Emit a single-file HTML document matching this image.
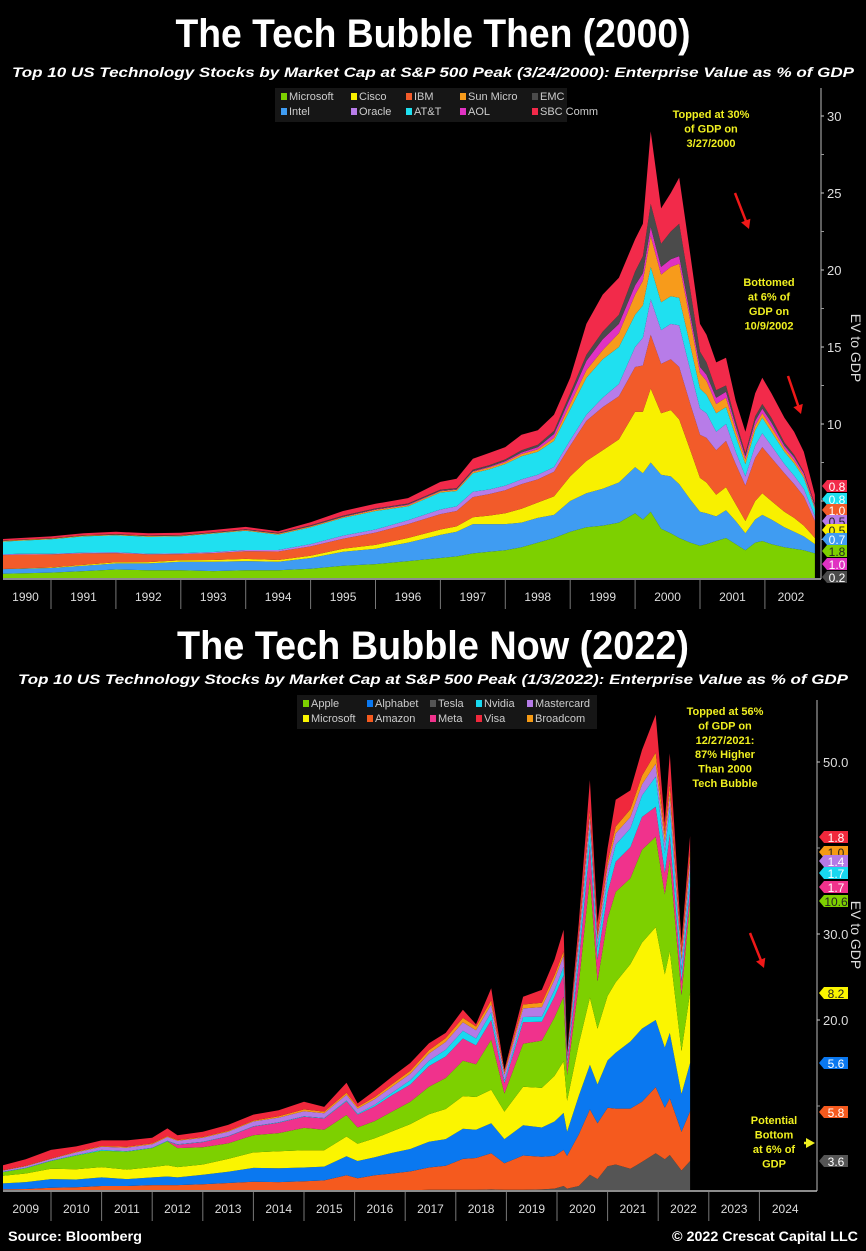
<!DOCTYPE html>
<html><head><meta charset="utf-8"><style>
html,body{margin:0;padding:0;background:#000;}
svg{display:block;font-family:"Liberation Sans",sans-serif;}
</style></head><body>
<svg id="c" width="866" height="1251" viewBox="0 0 866 1251">
<rect width="866" height="1251" fill="#000"/>
<text x="433" y="47" text-anchor="middle" fill="#fff" font-weight="bold" font-size="40" textLength="515" lengthAdjust="spacingAndGlyphs">The Tech Bubble Then (2000)</text>
<text x="433" y="77" text-anchor="middle" fill="#fff" font-weight="bold" font-style="italic" font-size="14" textLength="842" lengthAdjust="spacingAndGlyphs">Top 10 US Technology Stocks by Market Cap at S&amp;P 500 Peak (3/24/2000): Enterprise Value as % of GDP</text>
<text x="433" y="659" text-anchor="middle" fill="#fff" font-weight="bold" font-size="40" textLength="512" lengthAdjust="spacingAndGlyphs">The Tech Bubble Now (2022)</text>
<text x="433" y="684" text-anchor="middle" fill="#fff" font-weight="bold" font-style="italic" font-size="14" textLength="830" lengthAdjust="spacingAndGlyphs">Top 10 US Technology Stocks by Market Cap at S&amp;P 500 Peak (1/3/2022): Enterprise Value as % of GDP</text>
<text x="8" y="1241" fill="#fff" font-weight="bold" font-size="14" textLength="134" lengthAdjust="spacingAndGlyphs">Source: Bloomberg</text>
<text x="858" y="1241" text-anchor="end" fill="#fff" font-weight="bold" font-size="14" textLength="186" lengthAdjust="spacingAndGlyphs">© 2022 Crescat Capital LLC</text>
<g id="g1"></g>
<g id="g2"></g>
</svg>
<script>
// ===== Top chart data (EV as % of GDP) =====
const topDates=[1990.0,1990.5,1991.0,1991.5,1992.0,1992.5,1993.0,1993.5,1994.0,1994.5,1995.0,1995.5,1996.0,1996.5,1997.0,1997.25,1997.5,1997.75,1998.0,1998.25,1998.5,1998.75,1999.0,1999.25,1999.5,1999.75,2000.0,2000.12,2000.24,2000.4,2000.55,2000.68,2000.85,2001.0,2001.1,2001.25,2001.4,2001.55,2001.7,2001.85,2001.96,2002.1,2002.3,2002.45,2002.6,2002.77];
const topMicrosoft=[.25,.3,.35,.45,.55,.5,.5,.45,.5,.5,.6,.8,.9,1.1,1.3,1.4,1.6,1.7,1.8,2.0,2.3,2.6,3.0,3.3,3.4,3.6,4.2,3.8,4.3,3.2,2.9,2.6,2.3,2.1,2.2,2.4,2.6,2.2,1.8,2.3,2.4,2.2,2.0,1.9,1.8,1.6];
const topIntel=[.3,.3,.3,.35,.4,.45,.55,.6,.6,.55,.7,.9,1.0,1.2,1.5,1.6,1.9,1.8,1.7,1.6,1.6,1.5,2.0,2.2,2.4,2.6,3.0,3.0,3.2,3.5,3.7,3.5,2.8,2.2,2.0,1.6,1.8,1.5,1.1,1.5,1.7,1.6,1.3,1.1,.9,.6];
const topCisco=[0,.02,.03,.05,.07,.08,.1,.12,.14,.12,.15,.2,.25,.3,.35,.35,.45,.55,.7,.9,1.0,1.2,1.6,2.1,2.5,2.8,3.6,4.0,4.8,4.0,4.3,4.2,3.2,2.2,2.0,1.4,1.5,1.1,.8,1.2,1.4,1.2,1.0,.9,.7,.4];
const topIBM=[.9,.9,.85,.75,.6,.5,.4,.45,.5,.55,.6,.65,.8,.9,1.0,1.0,1.3,1.4,1.5,1.6,1.5,1.6,2.0,2.6,2.8,2.8,2.9,3.0,3.5,3.2,3.3,3.4,3.0,2.8,2.9,2.9,3.0,2.6,2.3,2.8,3.0,2.8,2.5,2.2,1.9,1.1];
const topOracle=[.05,.05,.04,.05,.05,.05,.06,.07,.08,.1,.15,.2,.2,.25,.3,.3,.35,.3,.3,.3,.3,.3,.35,.4,.6,.8,1.3,1.8,2.3,2.2,2.3,2.7,2.2,1.7,1.6,1.2,1.1,.8,.6,.8,.9,.8,.6,.55,.5,.3];
const topATT=[.8,.85,.95,1.05,1.1,1.1,1.1,1.2,1.25,1.0,1.1,1.15,1.2,.9,1.1,1.0,1.2,1.3,1.4,1.5,1.5,1.7,2.0,2.4,2.5,2.4,2.1,2.1,2.1,1.8,1.8,1.8,1.6,1.3,1.2,1.2,1.1,1.0,.8,1.0,1.0,.9,.8,.8,.7,.5];
const topSun=[.05,.05,.04,.05,.05,.05,.04,.04,.05,.05,.05,.06,.08,.08,.08,.08,.1,.12,.12,.15,.15,.2,.35,.5,.6,.9,1.3,1.6,2.0,1.8,1.9,2.2,1.6,1.0,.9,.6,.6,.4,.3,.3,.3,.3,.2,.2,.15,.1];
const topAOL=[0,0,0,0,0,0,.01,.01,.01,.02,.02,.03,.03,.04,.03,.03,.04,.05,.07,.1,.15,.25,.4,.6,.7,.6,.6,.5,.6,.5,.5,.5,.4,.4,.4,.4,.4,.3,.2,.3,.3,.3,.2,.2,.15,.1];
const topEMC=[.02,.02,.02,.03,.03,.03,.03,.03,.04,.04,.05,.06,.06,.07,.08,.08,.1,.1,.11,.15,.15,.2,.3,.4,.5,.6,.9,1.1,1.5,1.5,1.8,2.1,1.6,1.0,.8,.5,.4,.3,.2,.3,.3,.3,.2,.15,.1,.1];
const topSBC=[.1,.1,.12,.12,.15,.15,.15,.15,.15,.1,.2,.3,.3,.35,.5,.6,.7,.8,.8,1.0,.95,1.05,1.0,2.0,2.4,2.4,2.1,2.1,4.7,2.3,2.5,3.0,2.3,1.8,1.8,1.8,1.8,1.3,1.4,1.5,1.7,1.6,1.6,1.5,1.3,.6];
const topNames=["Microsoft","Intel","Cisco","IBM","Oracle","AT&T","Sun Micro","AOL","EMC","SBC Comm"];
const topColors=["#7dd000","#3f9cf2","#f8f000","#f25b2a","#b77ce8","#1fe0f0","#f79b1b","#e032c2","#4b4b4b","#f22a4a"];
const topTicks=[5,10,15,20,25,30];
const topYears=[1990,1991,1992,1993,1994,1995,1996,1997,1998,1999,2000,2001,2002];
const topTagText=["0.8","0.8","1.0","0.5","0.5","0.7","1.8","1.0","0.2"];

// ===== Bottom chart data =====
const botDates=[2009.05,2009.5,2010.0,2010.5,2011.0,2011.5,2012.0,2012.3,2012.5,2013.0,2013.5,2014.0,2014.5,2015.0,2015.4,2015.84,2016.06,2016.4,2016.74,2017.1,2017.47,2017.8,2018.14,2018.4,2018.7,2018.96,2019.33,2019.7,2019.95,2020.13,2020.2,2020.43,2020.65,2020.8,2021.0,2021.16,2021.45,2021.68,2021.95,2022.13,2022.23,2022.46,2022.63];
const botTesla=[0,0,0,0,0,0,0,0,0,0,.05,.1,.15,.15,.15,.15,.1,.15,.15,.2,.25,.25,.25,.25,.3,.25,.25,.3,.4,.7,.4,.7,2.0,1.5,3.0,3.2,2.7,3.5,4.5,3.8,4.3,2.5,3.6];
const botAmazon=[.3,.35,.5,.55,.7,.7,.8,.8,.8,.9,1.0,1.1,1.0,1.1,1.2,1.8,1.5,1.8,2.0,2.2,2.6,2.8,3.6,3.7,4.2,3.1,4.0,3.8,3.8,4.2,3.8,6.0,7.6,6.5,6.8,6.5,7.0,7.0,7.7,6.0,6.6,4.5,5.8];
const botAlphabet=[.7,.8,1.0,.9,1.0,.8,.9,1.0,.9,1.1,1.3,1.6,1.6,1.6,1.6,2.2,2.0,2.1,2.4,2.6,3.0,3.1,3.5,3.3,3.5,2.8,3.5,3.4,4.0,4.3,2.8,4.5,5.2,4.5,5.5,6.5,7.8,8.5,7.8,7.0,7.6,4.4,5.6];
const botMicrosoft=[.9,1.0,1.2,1.2,1.2,1.1,1.2,1.3,1.2,1.2,1.5,1.8,2.0,2.0,1.9,2.3,2.0,2.2,2.5,2.9,3.2,3.5,3.8,3.8,3.9,3.2,4.5,4.6,5.3,6.0,3.6,6.0,7.8,6.5,7.5,8.2,9.0,10.0,10.8,8.5,9.5,5.0,8.2];
const botApple=[.4,.6,.9,1.6,1.9,2.1,2.2,2.8,2.2,2.0,1.8,2.0,2.1,2.6,2.4,2.5,1.9,2.0,2.3,2.6,3.2,3.6,4.1,3.8,5.8,2.1,5.0,5.5,6.8,7.5,3.0,7.0,14.0,5.5,9.0,10.5,10.0,10.8,10.5,9.3,10.6,6.5,10.6];
const botMeta=[0,0,0,0,0,0,0,0,.4,.6,.8,1.0,1.2,1.3,1.3,1.6,1.5,1.7,1.9,2.0,2.4,2.5,2.6,2.2,2.3,1.2,2.5,2.2,2.4,2.5,1.2,2.6,3.8,2.5,3.0,3.5,3.6,3.8,3.5,2.5,3.0,1.6,1.7];
const botNvidia=[.05,.05,.05,.05,.1,.05,.05,.05,.05,.05,.05,.05,.05,.05,.05,.1,.1,.2,.3,.5,.6,.8,.9,.8,.9,.3,.6,.6,.8,1.0,.4,1.3,2.0,1.4,1.8,2.0,2.2,2.5,3.5,2.3,3.2,1.3,1.7];
const botMastercard=[.15,.2,.2,.3,.35,.4,.4,.45,.4,.45,.5,.55,.55,.6,.55,.65,.6,.65,.7,.75,.85,.9,1.0,.95,.9,.7,1.0,1.1,1.2,1.3,.6,1.2,1.3,1.0,1.2,1.3,1.3,1.3,1.5,1.2,1.4,1.2,1.4];
const botBroadcom=[.05,.05,.05,.1,.1,.1,.1,.1,.1,.1,.1,.1,.15,.2,.2,.25,.2,.25,.3,.35,.4,.45,.5,.45,.5,.3,.45,.5,.5,.5,.2,.5,.7,.5,.6,.8,.9,1.0,1.3,1.0,1.2,.8,1.0];
const botVisa=[.55,.75,1.0,.6,.65,.75,.65,.9,.55,.6,.7,.7,.7,.9,.55,1.15,.4,.75,.85,.9,.8,.6,.95,.25,1.4,.25,.9,1.5,1.8,2.5,.2,1.5,3.5,1.4,1.6,3.1,2.2,3.0,4.4,1.3,3.6,1.2,1.8];
const botNames=["Tesla","Amazon","Alphabet","Microsoft","Apple","Meta","Nvidia","Mastercard","Broadcom","Visa"];
const botColors=["#555555","#f55a1e","#0a78f0","#fbf500","#7dd000","#f0328c","#18d8f0","#b47ae6","#f59a14","#f0283c"];
const botTicks=[10,20,30,40,50];
const botYears=[2009,2010,2011,2012,2013,2014,2015,2016,2017,2018,2019,2020,2021,2022,2023,2024];
const botTagText=["1.8","1.0","1.4","1.7","1.7","10.6","8.2","5.6","5.8","3.6"];

const NS="http://www.w3.org/2000/svg";
function mk(tag,attrs,parent){const e=document.createElementNS(NS,tag);for(const k in attrs)e.setAttribute(k,attrs[k]);parent.appendChild(e);return e;}

// scales
const xT=y=>51+(y-1991)*64.9, yT=v=>578-v*15.4;
const xB=y=>51+(y-2010)*50.6, yB=v=>1192-v*8.6;

function drawStack(g,dates,series,colors,names,xf,yf,clipId,clipX,clipY,clipW,clipH){
  const defs=mk('defs',{},g);const cp=mk('clipPath',{id:clipId},defs);mk('rect',{x:clipX,y:clipY,width:clipW,height:clipH},cp);
  const base=dates.map(()=>0);
  series.forEach((s,i)=>{
    const top=base.map((b,j)=>b+s[j]);
    let d='M'+dates.map((t,j)=>xf(t).toFixed(1)+','+yf(top[j]).toFixed(1)).join('L');
    for(let j=dates.length-1;j>=0;j--)d+='L'+xf(dates[j]).toFixed(1)+','+yf(base[j]).toFixed(1);
    const p=mk('path',{d:d+'Z',fill:colors[i],'clip-path':'url(#'+clipId+')'},g);
    
    
    for(let j=0;j<base.length;j++)base[j]=top[j];
  });
}

const g1=document.getElementById('g1'), g2=document.getElementById('g2');
drawStack(g1,topDates,[topMicrosoft,topIntel,topCisco,topIBM,topOracle,topATT,topSun,topAOL,topEMC,topSBC],topColors,topNames,xT,yT,'cp1',3,88,818,490);
drawStack(g2,botDates,[botTesla,botAmazon,botAlphabet,botMicrosoft,botApple,botMeta,botNvidia,botMastercard,botBroadcom,botVisa],botColors,botNames,xB,yB,'cp2',3,700,814,490);

function axes(g,ticks,years,xf,yf,axX,yTop,yBase,labY,fmt,minor,lastX,titleY){
  mk('line',{x1:3,y1:yBase+1,x2:axX,y2:yBase+1,stroke:'#bbb','stroke-width':1.5},g);
  mk('line',{x1:axX,y1:yTop,x2:axX,y2:yBase+1,stroke:'#bbb','stroke-width':1},g);
  ticks.forEach(v=>{
    mk('line',{x1:axX,y1:yf(v),x2:axX+3,y2:yf(v),stroke:'#ccc'},g);
    const t=mk('text',{x:axX+6,y:yf(v)+5,fill:'#ddd','font-size':13},g);t.textContent=fmt(v);
    
    
  });
  minor.forEach(v=>{mk('line',{x1:axX,y1:yf(v),x2:axX+3,y2:yf(v),stroke:'#999'},g);});
  years.forEach((y,i)=>{
    if(i>0)mk('line',{x1:xf(y),y1:yBase+2,x2:xf(y),y2:labY+8,stroke:'#777'},g);
    const a=Math.max(0,xf(y)), b=i<years.length-1?xf(years[i+1]):lastX;
    const t=mk('text',{x:(a+b)/2,y:labY,fill:'#ddd','font-size':12,'text-anchor':'middle'},g);t.textContent=y;
    
    
  });
  const at=mk('text',{x:0,y:0,fill:'#ddd','font-size':14,'text-anchor':'middle',transform:`translate(851,${titleY}) rotate(90)`},g);at.textContent='EV to GDP';
  
  
}
axes(g1,topTicks,topYears,xT,yT,821,88,578,601,v=>String(v),[2.5,7.5,12.5,17.5,22.5,27.5],817,348);
axes(g2,botTicks,botYears,xB,yB,817,700,1190,1213,v=>v===40||v===10?'':v.toFixed(1),[10,40],811,935);

function tags(g,texts,colors,ys,x,w,darkIdx){
  texts.forEach((s,i)=>{
    const y=ys[i];
    const p=mk('path',{d:`M${x},${y} l5,-6 h${w} v12 h-${w} z`,fill:colors[i]},g);
    
    
    const t=mk('text',{x:x+5+w/2,y:y+5,'font-size':12,'text-anchor':'middle',fill:darkIdx.includes(i)?'#222':'#fff'},g);t.textContent=s;
  });
}
tags(g1,topTagText,["#f22a4a","#1fe0f0","#f25b2a","#b77ce8","#f8f000","#3f9cf2","#7dd000","#e032c2","#4b4b4b"],[486,499,510,521,530,539,551,564,577],822,20,[3,4,6]);
tags(g2,botTagText,["#f0283c","#f59a14","#b47ae6","#18d8f0","#f0328c","#7dd000","#fbf500","#0a78f0","#f55a1e","#555555"],[837,852,861,873,887,901,993,1063,1112,1161],819,24,[1,5,6]);

function legend(g,names,colors,x,y,w,colX){
  const r=mk('rect',{x:x,y:y,width:w,height:34,fill:'#161616'},g);
  
  
  names.forEach((n,i)=>{
    const c=i%5, row=Math.floor(i/5);
    const lx=x+colX[c], ly=y+12+row*15;
    mk('rect',{x:lx,y:ly-7,width:6,height:7,fill:colors[i]},g);
    const t=mk('text',{x:lx+8,y:ly,fill:'#ccc','font-size':11},g);t.textContent=n;
    
    
  });
}
// top legend order: row1 Microsoft Cisco IBM Sun EMC ; row2 Intel Oracle AT&T AOL SBC
legend(g1,["Microsoft","Cisco","IBM","Sun Micro","EMC","Intel","Oracle","AT&T","AOL","SBC Comm"],
 ["#7dd000","#f8f000","#f25b2a","#f79b1b","#4b4b4b","#3f9cf2","#b77ce8","#1fe0f0","#e032c2","#f22a4a"],275,88,292,[6,76,131,185,257]);
legend(g2,["Apple","Alphabet","Tesla","Nvidia","Mastercard","Microsoft","Amazon","Meta","Visa","Broadcom"],
 ["#7dd000","#0a78f0","#555555","#18d8f0","#b47ae6","#fbf500","#f55a1e","#f0328c","#f0283c","#f59a14"],297,695,300,[6,70,133,179,230]);

function note(g,lines,cx,y0,dy,name){
  const t=mk('text',{x:cx,y:y0,fill:'#f0f020','font-size':11,'font-weight':'bold','text-anchor':'middle'},g);
  
  
  lines.forEach((l,i)=>{const s=mk('tspan',{x:cx,dy:i?dy:0},t);s.textContent=l;});
}
note(g1,["Topped at 30%","of GDP on","3/27/2000"],711,118,14.5,'peak-annotation');
note(g1,["Bottomed","at 6% of","GDP on","10/9/2002"],769,286,14.5,'bottom-annotation');
note(g2,["Topped at 56%","of GDP on","12/27/2021:","87% Higher","Than 2000","Tech Bubble"],725,715,14.4,'peak-annotation-2022');
note(g2,["Potential","Bottom","at 6% of","GDP"],774,1124,14.5,'potential-bottom-annotation');
function arrow(g,x1,y1,x2,y2,col){
  const a=Math.atan2(y2-y1,x2-x1);
  mk('line',{x1,y1,x2:x2-6*Math.cos(a),y2:y2-6*Math.sin(a),stroke:col,'stroke-width':2.5},g);
  mk('path',{d:`M${x2},${y2} L${x2-9*Math.cos(a)+5*Math.sin(a)},${y2-9*Math.sin(a)-5*Math.cos(a)} L${x2-9*Math.cos(a)-5*Math.sin(a)},${y2-9*Math.sin(a)+5*Math.cos(a)} Z`,fill:col},g);
}
arrow(g1,735,193,749,229,'#f01818');
arrow(g1,788,376,801,414,'#f01818');
arrow(g2,750,933,764,968,'#f01818');
arrow(g2,804,1143,815,1143,'#f0f020');
</script>
</body></html>
